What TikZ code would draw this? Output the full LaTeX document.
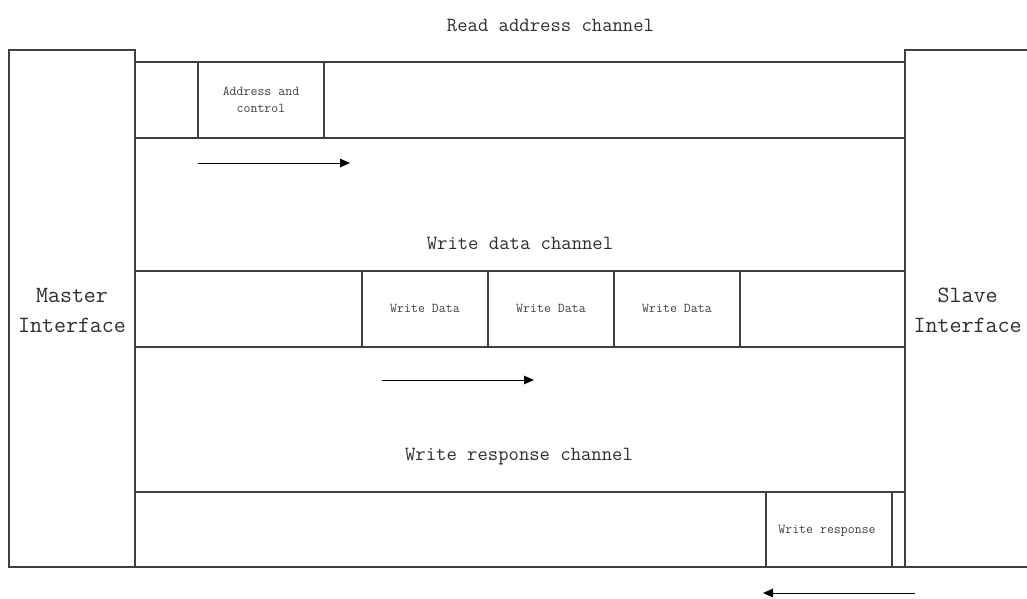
\documentclass[tikz,border=0pt]{standalone}
\usetikzlibrary{arrows.meta}
\begin{document}
\begin{tikzpicture}[x=1pt,y=-1pt,
  ln/.style={draw=black!75, line width=1.2pt},
  box/.style={ln, rectangle, inner sep=0pt, outer sep=0pt, anchor=north west},
  txt/.style={text=black!82, inner sep=0pt, anchor=base},
  big/.style={txt, font=\ttfamily\fontsize{20.1}{24}\selectfont},
  iface/.style={txt, font=\ttfamily\fontsize{23.3}{28}\selectfont},
  small/.style={txt, text=black!75, font=\ttfamily\fontsize{13.5}{16}\selectfont},
  flow/.style={-{Triangle[length=10pt,width=8.5pt]}, line width=1pt, black}]
\useasboundingbox (0,0) rectangle (1027,598);
\clip (0,0) rectangle (1027,598);

% interface blocks
\node[box, minimum width=126pt, minimum height=517pt] (master) at (9,50) {};
\node[box, minimum width=150pt, minimum height=517pt] (slave) at (905,50) {};

% channel lanes
\node[box, minimum width=770pt, minimum height=76pt] (rowA) at (135,62) {};
\node[box, minimum width=770pt, minimum height=76pt] (rowW) at (135,271) {};
\node[box, minimum width=770pt, minimum height=75pt] (rowB) at (135,492) {};

% transfers inside the lanes
\node[box, minimum width=126pt, minimum height=76pt] (addr) at (198,62) {};
\node[box, minimum width=126pt, minimum height=76pt] (wd1) at (362,271) {};
\node[box, minimum width=126pt, minimum height=76pt] (wd2) at (488,271) {};
\node[box, minimum width=126pt, minimum height=76pt] (wd3) at (614,271) {};
\node[box, minimum width=126pt, minimum height=75pt] (wresp) at (766,492) {};

% labels
\node[big] (tA) at (550.5,31.5) {Read address channel};
\node[big] (tW) at (520,249) {Write data channel};
\node[big] (tB) at (519,460) {Write response channel};

\node[small] (addr1) at (261,95.7) {Address and};
\node[small] (addr2) at (261,112.7) {control};
\node[small] (wd1t) at (425,312.3) {Write Data};
\node[small] (wd2t) at (551,312.3) {Write Data};
\node[small] (wd3t) at (677,312.3) {Write Data};
\node[small] (wrt) at (827,533.3) {Write response};

\node[iface] (m1) at (72,302) {Master};
\node[iface] (m2) at (72,332) {Interface};
\node[iface] (s1) at (967.7,302) {Slave};
\node[iface] (s2) at (967.7,332) {Interface};

% direction of each channel
\coordinate (a1s) at (198,163);
\coordinate (a1e) at (350,163);
\coordinate (a2s) at (382,380);
\coordinate (a2e) at (534,380);
\coordinate (a3s) at (915,593);
\coordinate (a3e) at (763,593);
\draw[flow] (a1s) -- (a1e);
\draw[flow] (a2s) -- (a2e);
\draw[flow] (a3s) -- (a3e);
\end{tikzpicture}
\end{document}
